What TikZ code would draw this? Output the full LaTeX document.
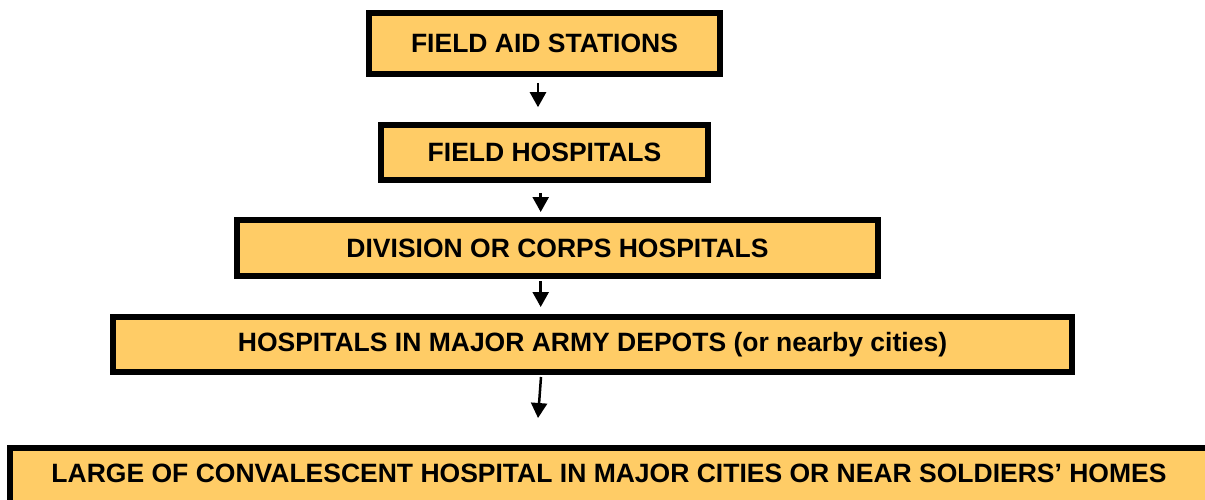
\documentclass[tikz,border=0pt]{standalone}
\usepackage{fontspec}
\setmainfont{Liberation Sans}
\usetikzlibrary{%
	arrows.meta,%
	positioning,%
}
\definecolor{cstage}{RGB}{255, 204, 102}
\tikzset{
	>={Triangle[width=16pt,length=15pt]},%
	stage/.style={%
			draw,%
			rectangle,%
			line width=6pt,%
			fill=cstage,%
			inner sep=0,%
			font=\bfseries\fontsize{26.5}{30}\selectfont},%
	flow/.style={%
			->,%
			line width=2.5pt},%
}

\begin{document}
\begin{tikzpicture}[x=1pt, y=-1pt]%
	\path[use as bounding box, clip] (0,0) rectangle (1205,499);

	\node[stage, minimum width=351pt, minimum height=61pt] (fas) at (544.5,43.3) {FIELD AID STATIONS};
	\node[stage, minimum width=327pt, minimum height=55pt] (fh) at (544.5,152.4) {FIELD HOSPITALS};
	\node[stage, minimum width=641pt, minimum height=56pt] (div) at (557.5,248) {DIVISION OR CORPS HOSPITALS};
	\node[stage, minimum width=959pt, minimum height=55pt] (depot) at (592.5,344.5) {HOSPITALS IN MAJOR ARMY DEPOTS (or nearby cities)};
	\node[stage, minimum width=1198pt, minimum height=60pt, text depth=10pt] (conv) at (609,478) {LARGE OF CONVALESCENT HOSPITAL IN MAJOR CITIES OR NEAR SOLDIERS’ HOMES};

	\draw[flow] ([xshift=-6.5pt,yshift=-6pt]fas.south) -- ([xshift=-6.5pt,yshift=14.7pt]fh.north);
	\draw[flow] ([xshift=-3.8pt,yshift=-10pt]fh.south) -- ([xshift=-16.8pt,yshift=5pt]div.north);
	\draw[flow] ([xshift=-16.8pt,yshift=-2pt]div.south) -- ([xshift=-51.8pt,yshift=7pt]depot.north);
	\draw[flow] ([xshift=-51.5pt,yshift=-2pt]depot.south) -- ([xshift=-71pt,yshift=27pt]conv.north);
\end{tikzpicture}
\end{document}
